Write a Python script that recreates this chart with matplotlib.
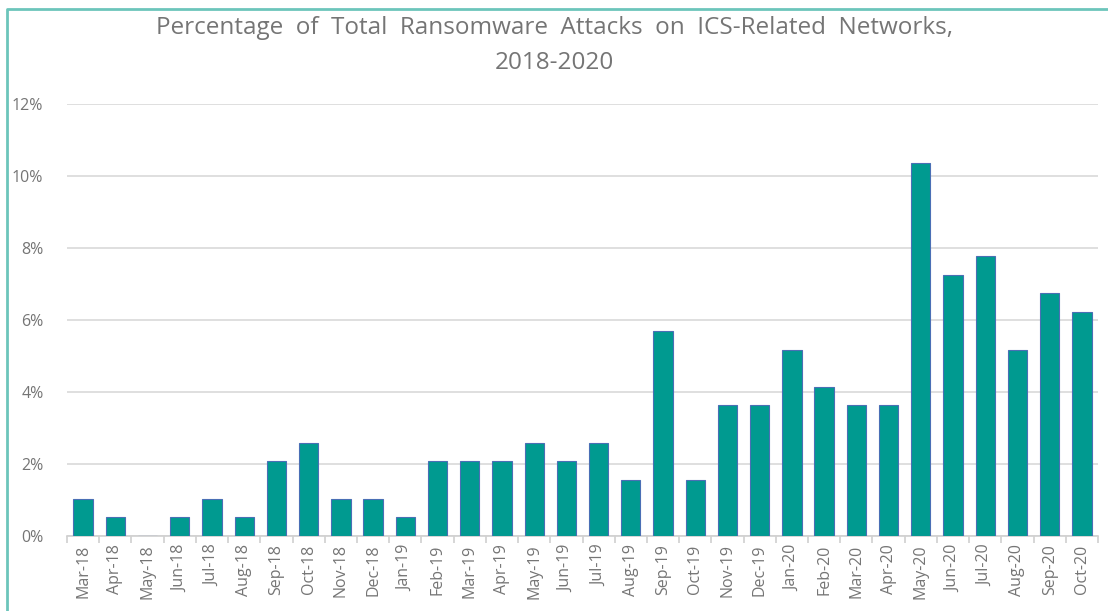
import matplotlib
matplotlib.use("Agg")
import matplotlib.pyplot as plt
from matplotlib.lines import Line2D
from matplotlib.ticker import FuncFormatter, FixedLocator

months = ["Mar-18", "Apr-18", "May-18", "Jun-18", "Jul-18", "Aug-18", "Sep-18", "Oct-18",
          "Nov-18", "Dec-18", "Jan-19", "Feb-19", "Mar-19", "Apr-19", "May-19", "Jun-19",
          "Jul-19", "Aug-19", "Sep-19", "Oct-19", "Nov-19", "Dec-19", "Jan-20", "Feb-20",
          "Mar-20", "Apr-20", "May-20", "Jun-20", "Jul-20", "Aug-20", "Sep-20", "Oct-20"]
pct = [1.04, 0.52, 0.0, 0.52, 1.04, 0.52, 2.07, 2.59,
       1.04, 1.04, 0.52, 2.07, 2.07, 2.07, 2.59, 2.07,
       2.59, 1.55, 5.70, 1.55, 3.63, 3.63, 5.18, 4.15,
       3.63, 3.63, 10.36, 7.25, 7.77, 5.18, 6.74, 6.22]

plt.rcParams['font.family'] = ['Open Sans', 'DejaVu Sans']
grey = "#757575"

fig = plt.figure(figsize=(11.08, 6.11), dpi=100)
ax = fig.add_axes([67 / 1108, 1 - 536 / 611, (1098 - 67) / 1108, (536 - 104) / 611])

x = list(range(len(months)))
ax.bar(x, pct, width=0.6, color="#009a90", edgecolor="#4a6fb5", linewidth=0.8, zorder=3)

ax.set_xlim(-0.5, len(months) - 0.5)
ax.set_ylim(0, 12)
ax.set_yticks(range(0, 13, 2))
ax.yaxis.set_major_formatter(FuncFormatter(lambda v, p: f"{v:.0f}%"))
ax.grid(axis="y", color="#d9d9d9", linewidth=1.2, zorder=0)

ax.set_xticks(x)
ax.set_xticklabels(months, rotation=90)
ax.xaxis.set_minor_locator(FixedLocator([i - 0.5 for i in range(len(months) + 1)]))
ax.tick_params(axis="x", which="major", length=0, pad=6, labelsize=11.5, labelcolor=grey)
ax.tick_params(axis="x", which="minor", length=5, color="#d0d0d0", width=1.2)
ax.tick_params(axis="y", length=0, pad=17, labelsize=11.5, labelcolor=grey)
for s in ["top", "right", "left"]:
    ax.spines[s].set_visible(False)
ax.spines["bottom"].set_color("#d0d0d0")
ax.spines["bottom"].set_linewidth(1.2)

fig.text(0.5, 1 - 28 / 611, "Percentage  of  Total  Ransomware  Attacks  on  ICS-Related  Networks,",
         ha="center", va="center", fontsize=17.5, color=grey)
fig.text(0.5, 1 - 63 / 611, "2018-2020", ha="center", va="center", fontsize=17.5, color=grey)

# teal frame around the chart
fig.add_artist(Line2D([7 / 1108, 7 / 1108, 1.0], [0.0, 1 - 9 / 611, 1 - 9 / 611],
                      transform=fig.transFigure, color="#6cc5bb", linewidth=2))

fig.savefig("out.png", dpi=100)
